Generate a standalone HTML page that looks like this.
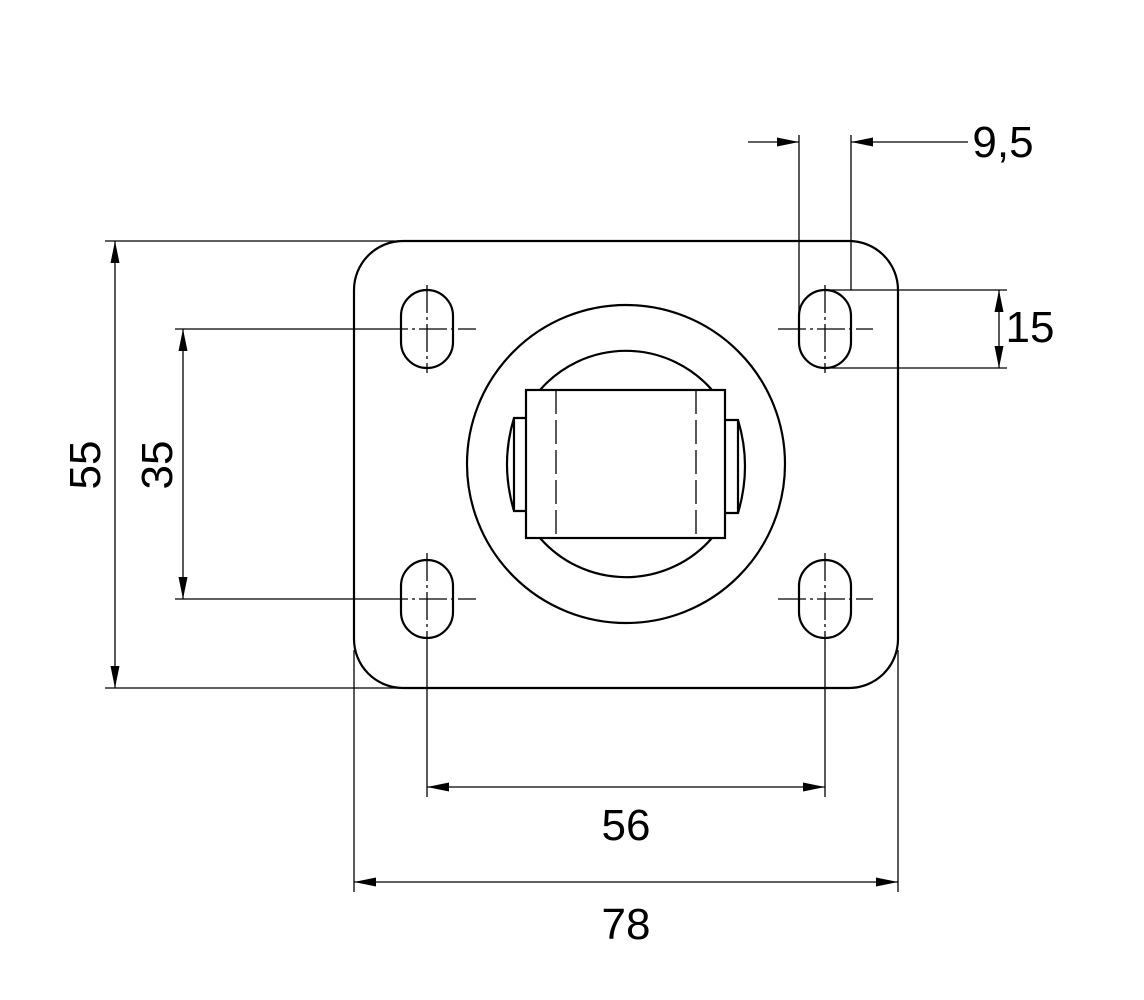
<!DOCTYPE html>
<html><head><meta charset="utf-8"><style>html,body{margin:0;padding:0;background:#fff}svg{display:block}</style></head>
<body>
<svg width="1144" height="1000" viewBox="0 0 1144 1000" xmlns="http://www.w3.org/2000/svg">
<defs>
<marker id="a" viewBox="0 0 22 10" refX="22" refY="5" markerWidth="22" markerHeight="10" markerUnits="userSpaceOnUse" orient="auto-start-reverse"><path d="M0,0.5 L22,5 L0,9.5 Z" fill="#000"/></marker>
</defs>
<g fill="none" stroke="#000" stroke-width="2.2">
<rect x="354" y="241" width="544" height="447" rx="49"/>
<rect x="401" y="290" width="52" height="78" rx="26"/>
<rect x="799" y="290" width="52" height="78" rx="26"/>
<rect x="401" y="560" width="52" height="78" rx="26"/>
<rect x="799" y="560" width="52" height="78" rx="26"/>
<circle cx="626" cy="464" r="159"/>
<path d="M540,390 A114,114 0 0 1 712,390 M540,538 A114,114 0 0 0 712,538"/>
<rect x="526" y="390" width="199" height="148"/>
<path d="M526,418 L514,418 Q500,464 514,511 L526,511 M514,418 L514,511"/>
<path d="M725,420 L738,420 Q752,466 738,513 L725,513 M738,420 L738,513"/>
</g>
<g stroke="#000" stroke-width="1.3" fill="none" stroke-dasharray="24,6">
<line x1="556" y1="390" x2="556" y2="538"/>
<line x1="696" y1="390" x2="696" y2="538"/>
</g>
<g stroke="#000" stroke-width="1.3" fill="none" stroke-dasharray="28,4,3,4">
<line x1="380" y1="329" x2="476" y2="329"/><line x1="427" y1="285" x2="427" y2="373"/>
<line x1="778" y1="329" x2="873" y2="329"/><line x1="825" y1="285" x2="825" y2="373"/>
<line x1="380" y1="599" x2="476" y2="599"/><line x1="427" y1="553" x2="427" y2="645"/>
<line x1="778" y1="599" x2="873" y2="599"/><line x1="825" y1="553" x2="825" y2="645"/>
</g>
<g stroke="#000" stroke-width="1.3" fill="none">
<line x1="105" y1="241" x2="400" y2="241"/>
<line x1="105" y1="688" x2="400" y2="688"/>
<line x1="175" y1="329" x2="380" y2="329"/>
<line x1="175" y1="599" x2="380" y2="599"/>
<line x1="427" y1="645" x2="427" y2="797"/>
<line x1="825" y1="645" x2="825" y2="797"/>
<line x1="354" y1="650" x2="354" y2="892"/>
<line x1="898" y1="650" x2="898" y2="892"/>
<line x1="799" y1="135" x2="799" y2="329"/>
<line x1="851" y1="135" x2="851" y2="290"/>
<line x1="825" y1="290" x2="1007" y2="290"/>
<line x1="825" y1="368" x2="1007" y2="368"/>
<line x1="115" y1="241" x2="115" y2="688" marker-start="url(#a)" marker-end="url(#a)"/>
<line x1="183" y1="329" x2="183" y2="599" marker-start="url(#a)" marker-end="url(#a)"/>
<line x1="427" y1="787" x2="825" y2="787" marker-start="url(#a)" marker-end="url(#a)"/>
<line x1="354" y1="882" x2="898" y2="882" marker-start="url(#a)" marker-end="url(#a)"/>
<line x1="999" y1="290" x2="999" y2="368" marker-start="url(#a)" marker-end="url(#a)"/>
<line x1="748" y1="142" x2="799" y2="142" marker-end="url(#a)"/>
<line x1="968" y1="142" x2="851" y2="142" marker-end="url(#a)"/>
</g>
<g font-family="'Liberation Sans', sans-serif" font-size="44" fill="#000" text-anchor="middle">
<text x="1003" y="157">9,5</text>
<text x="1030" y="342">15</text>
<text x="626" y="840">56</text>
<text x="626" y="939">78</text>
<text transform="translate(100,465) rotate(-90)">55</text>
<text transform="translate(172,465) rotate(-90)">35</text>
</g>
</svg>
</body></html>
